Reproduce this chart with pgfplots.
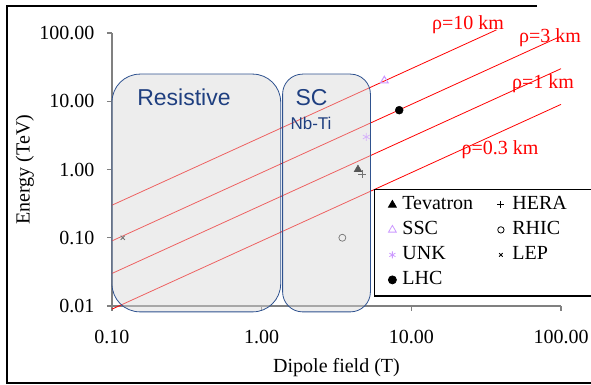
\documentclass[border=0pt]{standalone}
\usepackage{pgfplots}
\pgfplotsset{compat=1.18}
\usepackage{fontspec}
\setmainfont{Liberation Serif}
\setsansfont{Liberation Sans}
\usetikzlibrary{shadows}
\definecolor{boxblue}{RGB}{47,82,143}
\definecolor{txtblue}{RGB}{31,63,128}
\definecolor{lav}{RGB}{204,153,255}
\definecolor{lavin}{RGB}{214,180,250}
\definecolor{axgray}{RGB}{128,128,128}
\definecolor{boxfill}{RGB}{216,216,216}
\definecolor{mkin}{RGB}{85,85,85}
\newcommand{\fs}[1]{\fontsize{#1}{#1}\selectfont}
\begin{document}
\begin{tikzpicture}[x=1pt,y=1pt]
\useasboundingbox (0,0) rectangle (591,385);
\clip (0,0) rectangle (591,385);
\draw[line width=1.3pt] (537,379) -- (7,379) -- (7,2) -- (591,2);
\begin{axis}[
  at={(112pt,79pt)}, anchor=south west,
  scale only axis, width=449pt, height=273pt,
  xmode=log, ymode=log,
  xmin=0.1, xmax=100, ymin=0.01, ymax=100,
  axis x line*=bottom, axis y line*=left,
  axis line style={-, draw=axgray, line width=1.2pt},
  xtick={0.1,1,10,100}, xticklabels={0.10,1.00,10.00,100.00},
  ytick={0.01,0.1,1,10,100}, yticklabels={0.01,0.10,1.00,10.00,100.00},
  xminorticks=false, yminorticks=false,
  tick align=outside, major tick length=5pt,
  tick style={draw=axgray, line width=1.2pt},
  ticklabel style={font=\fs{20}},
  xticklabel style={yshift=-16pt},
  yticklabel style={xshift=-9pt},
  label style={font=\fs{20}},
  xlabel={Dipole field (T)}, ylabel={Energy (TeV)},
  xlabel style={at={(axis description cs:0.5,-0.227)}, anchor=center},
  ylabel style={at={(axis description cs:-0.194,0.5)}, anchor=center},
  clip=false,
  legend columns=2,
  legend style={at={(axis description cs:0.5835,0.4286)}, anchor=north west,
    draw=black, line width=0.8pt, fill=white, font=\fs{20},
    inner xsep=14pt, inner ysep=6pt,
    nodes={inner sep=0pt, text height=14pt, text depth=5pt},
    row sep=6pt,
    /tikz/column 1/.style={column sep=6pt},
    /tikz/column 2/.style={text width=89pt, column sep=6pt},
    /tikz/column 3/.style={column sep=8pt},
    /tikz/column 4/.style={text width=90pt},
    drop shadow={shadow xshift=0pt, shadow yshift=-2pt, fill=black, opacity=1}},
  legend image code/.code={\draw[mark repeat=2,mark phase=2,#1] plot coordinates {(0pt,0pt)(5pt,0pt)(10pt,0pt)};},
]
\addplot[red, line width=0.8pt, forget plot] coordinates {(0.1,0.3) (37,111)};
\addplot[red, line width=0.8pt, forget plot] coordinates {(0.1,0.09) (94,84.6)};
\addplot[red, line width=0.8pt, forget plot] coordinates {(0.1,0.03) (100,30)};
\addplot[red, line width=0.8pt, forget plot] coordinates {(0.1,0.009) (100,9)};
% data points
\addplot[forget plot, only marks, mark=triangle*, mark size=4.5pt, mkin] coordinates {(4.4,1.0)};
\addplot[forget plot, only marks, mark=+, mark size=4pt, black!55, line width=0.8pt] coordinates {(4.7,0.85)};
\addplot[forget plot, only marks, mark=triangle, mark size=4.5pt, lav, line width=1pt] coordinates {(6.6,20)};
\addplot[forget plot, only marks, mark=o, mark size=3.5pt, black!55, line width=0.7pt] coordinates {(3.46,0.1)};
\addplot[forget plot, only marks, mark=asterisk, mark size=4pt, lavin, line width=0.8pt] coordinates {(5.0,3.0)};
\addplot[forget plot, only marks, mark=x, mark size=3pt, black!55, line width=0.8pt] coordinates {(0.118,0.1)};
\addplot[forget plot, only marks, mark=*, mark size=4pt, black] coordinates {(8.3,7.4)};
% legend
\addlegendimage{only marks, mark=triangle*, mark size=4.5pt, black}
\addlegendentry{Tevatron}
\addlegendimage{only marks, mark=+, mark size=3.5pt, black, line width=0.8pt}
\addlegendentry{HERA}
\addlegendimage{only marks, mark=triangle, mark size=4.5pt, lav, line width=0.8pt}
\addlegendentry{SSC}
\addlegendimage{only marks, mark=o, mark size=3.2pt, black, line width=0.8pt}
\addlegendentry{RHIC}
\addlegendimage{only marks, mark=asterisk, mark size=3.5pt, lav, line width=0.8pt}
\addlegendentry{UNK}
\addlegendimage{only marks, mark=x, mark size=2.5pt, black, line width=0.8pt}
\addlegendentry{LEP}
\addlegendimage{only marks, mark=*, mark size=4pt, black}
\addlegendentry{LHC}
\addplot[forget plot, no markers, draw=boxblue, line width=0.8pt, fill=boxfill, fill opacity=0.45, rounded corners=28pt] coordinates {(0.1,0.0082) (0.1,25) (1.34,25) (1.34,0.0082)} -- cycle;
\addplot[forget plot, no markers, draw=boxblue, line width=0.8pt, fill=boxfill, fill opacity=0.45, rounded corners=20pt] coordinates {(1.38,0.0082) (1.38,25) (5.33,25) (5.33,0.0082)} -- cycle;
\end{axis}
\node[font=\sffamily\fs{23}, text=txtblue, anchor=base] at (184,279.3) {Resistive};
\node[font=\sffamily\fs{23}, text=txtblue, anchor=base] at (311.5,279.3) {SC};
\node[font=\sffamily\fs{17}, text=txtblue, anchor=base] at (311,255) {Nb-Ti};
\node[font=\fs{20}, text=red, anchor=base] at (468,355.7) {ρ=10 km};
\node[font=\fs{20}, text=red, anchor=base] at (550,342) {ρ=3 km};
\node[font=\fs{20}, text=red, anchor=base] at (543,296) {ρ=1 km};
\node[font=\fs{20}, text=red, anchor=base] at (500,230) {ρ=0.3 km};
\end{tikzpicture}
\end{document}
